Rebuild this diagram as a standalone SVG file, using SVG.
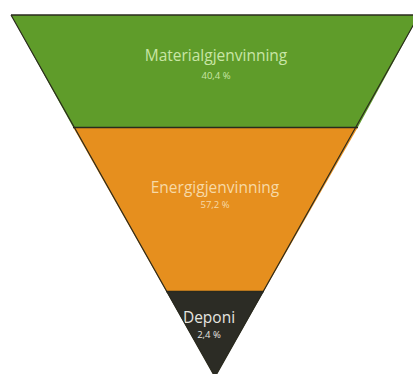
<svg xmlns="http://www.w3.org/2000/svg" width="413" height="374" viewBox="0 0 413 374">
<style>
.lbl{font-family:"Open Sans","Liberation Sans",sans-serif;text-anchor:middle;font-weight:500}
.big{font-size:15.5px}
.small{font-size:9.5px}
.sep{stroke:#2a2a1e;stroke-width:1.5}
</style>
<rect width="413" height="374" fill="#ffffff"/>
<g id="materialgjenvinning">
<polygon points="11,15 419,15 358,127 73,127" fill="#5f9c2a"/>
<text class="lbl big" x="216" y="61" fill="#c9e6a6">Materialgjenvinning</text>
<text class="lbl small" x="216" y="79" fill="#c9e6a6">40,4 %</text>
</g>
<g id="energigjenvinning">
<polygon points="73,127 358,127 264,291 166,291" fill="#e68f1e"/>
<text class="lbl big" x="215" y="193" fill="#f7d9a6">Energigjenvinning</text>
<text class="lbl small" x="215" y="208" fill="#f7d9a6">57,2 %</text>
</g>
<g id="deponi">
<polygon points="166,291 264,291 215,377" fill="#2c2c25"/>
<text class="lbl big" x="209" y="323" fill="#e6e6e0">Deponi</text>
<text class="lbl small" x="209" y="338" fill="#e6e6e0">2,4 %</text>
</g>
<g id="connectors">
<line class="sep" x1="73" y1="127.5" x2="358" y2="127.5"/>
<line class="sep" x1="166" y1="291.5" x2="264" y2="291.5"/>
<polyline points="11,15 419,15" fill="none" stroke="#2a2a1e" stroke-width="1.5"/>
<polyline points="11,15 215,377 419,15" fill="none" stroke="#2a2a1e" stroke-width="1.2"/>
</g>
</svg>
